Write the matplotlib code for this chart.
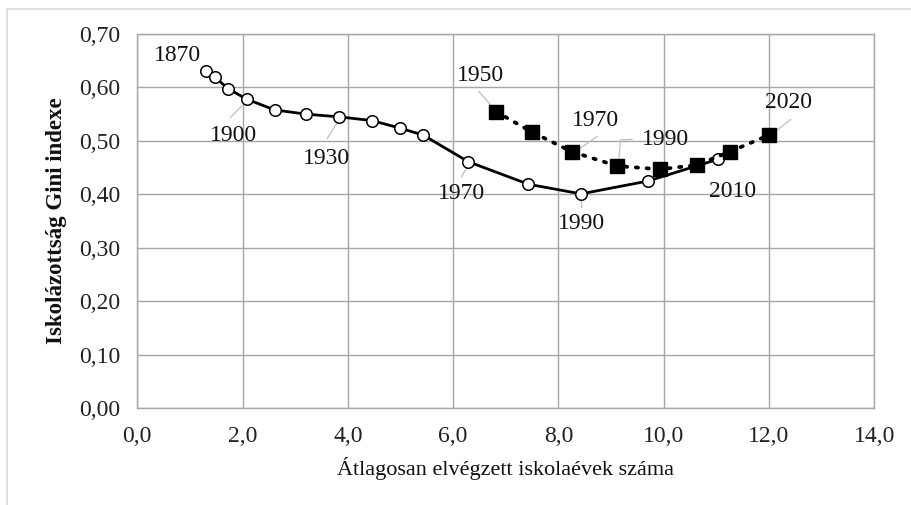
import matplotlib
matplotlib.use("Agg")
import matplotlib.pyplot as plt
from matplotlib.patches import Rectangle
from matplotlib.ticker import FuncFormatter, MultipleLocator

plt.rcParams['font.family'] = ['Liberation Serif', 'DejaVu Serif']

# Series 1: 1870-2010 (open circles)
years1 = [1870, 1880, 1890, 1900, 1910, 1920, 1930, 1940, 1950, 1960,
          1970, 1980, 1990, 2000, 2010]
school1 = [1.31, 1.48, 1.72, 2.08, 2.61, 3.21, 3.84, 4.46, 4.99, 5.43,
           6.29, 7.43, 8.43, 9.70, 11.04]
gini1 = [0.631, 0.619, 0.598, 0.578, 0.558, 0.550, 0.545, 0.538, 0.524, 0.511,
         0.461, 0.419, 0.401, 0.425, 0.466]

# Series 2: 1950-2020 (filled squares)
years2 = [1950, 1960, 1970, 1980, 1990, 2000, 2010, 2020]
school2 = [6.81, 7.49, 8.25, 9.12, 9.93, 10.63, 11.26, 12.00]
gini2 = [0.555, 0.517, 0.480, 0.453, 0.447, 0.455, 0.480, 0.511]

# Point labels: text, text position, leader line path
labels = [
    ("1870", (0.77, 0.659), None),
    ("1900", (1.82, 0.511), [(1.77, 0.544), (1.98, 0.565)]),
    ("1930", (3.60, 0.468), [(3.61, 0.505), (3.79, 0.533)]),
    ("1950", (6.51, 0.623), [(6.49, 0.592), (6.80, 0.558)]),
    ("1970", (8.70, 0.539), [(8.73, 0.508), (8.41, 0.486)]),
    ("1970", (6.16, 0.402), [(6.16, 0.433), (6.27, 0.452)]),
    ("1990", (8.44, 0.346), [(8.43, 0.377), (8.43, 0.393)]),
    ("1990", (10.03, 0.503), [(9.40, 0.503), (9.18, 0.502), (9.14, 0.458)]),
    ("2010", (11.31, 0.405), None),
    ("2020", (12.37, 0.572), [(12.41, 0.540), (12.11, 0.517)]),
]

xlabel = "Átlagosan elvégzett iskolaévek száma"
ylabel = "Iskolázottság Gini indexe"

fig = plt.figure(figsize=(9.11, 5.05), dpi=100)
fig.patches.append(Rectangle((7 / 911, -0.01), 1.0, 1 - 9 / 505 + 0.01,
                             transform=fig.transFigure, fill=False,
                             edgecolor='#d9d9d9', linewidth=1.2))
ax = fig.add_axes([0.1507, 0.1915, 0.8090, 0.7412])

ax.set_xlim(0, 14)
ax.set_ylim(0, 0.70)
ax.xaxis.set_major_locator(MultipleLocator(2))
ax.yaxis.set_major_locator(MultipleLocator(0.1))
ax.xaxis.set_major_formatter(FuncFormatter(lambda v, p: f"{v:.1f}".replace('.', ',')))
ax.yaxis.set_major_formatter(FuncFormatter(lambda v, p: f"{v:.2f}".replace('.', ',')))
ax.grid(True, color='#a6a6a6', linewidth=1.0)
ax.set_axisbelow(True)
for s in ax.spines.values():
    s.set_color('#a6a6a6')
    s.set_linewidth(1.0)
ax.tick_params(length=0, labelsize=17, colors='#222222')
ax.tick_params(axis='y', pad=12)
ax.tick_params(axis='x', pad=13)

for txt, pos, leader in labels:
    if leader:
        xs = [p[0] for p in leader]
        ys = [p[1] for p in leader]
        ax.plot(xs, ys, color='#bfbfbf', linewidth=0.9, zorder=2)
    ax.text(pos[0], pos[1], txt, fontsize=17, ha='center', va='center',
            color='#111111', zorder=6)

ax.plot(school1, gini1, color='black', linewidth=2.0, marker='o',
        markersize=8.3, markerfacecolor='white', markeredgecolor='black',
        markeredgewidth=1.1, zorder=4)
ax.plot(school2, gini2, color='black', linewidth=2.7, linestyle=(0, (0.6, 2.3)),
        dash_capstyle='round', marker='s', markersize=10,
        markerfacecolor='black', markeredgecolor='black', zorder=5)

ax.set_xlabel(xlabel, fontsize=16, labelpad=7, color='#111111')
ax.set_ylabel(ylabel, fontsize=16.5, fontweight='bold', labelpad=9, color='#111111')

fig.savefig("out.png", dpi=100)
